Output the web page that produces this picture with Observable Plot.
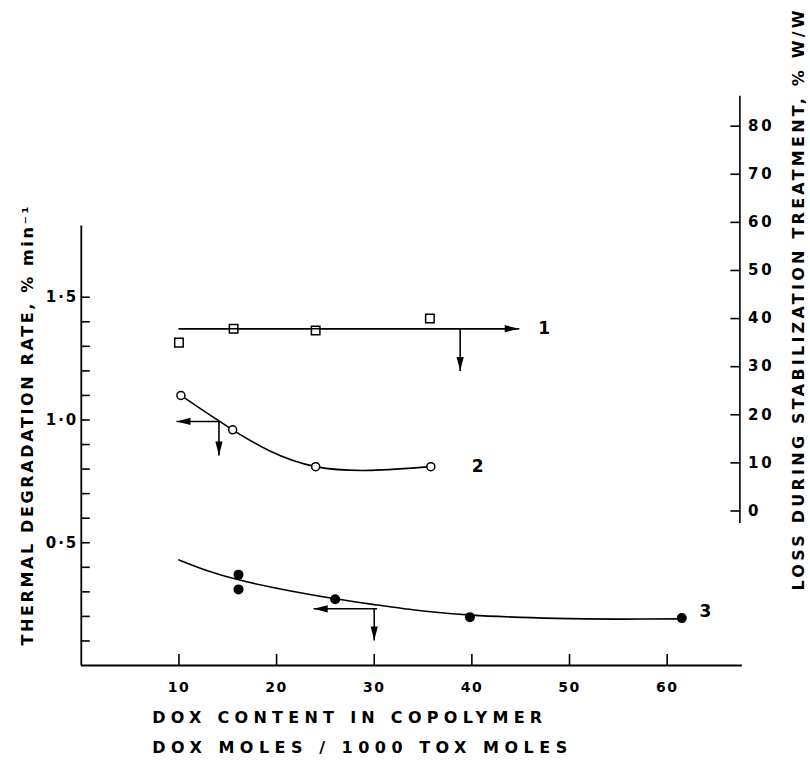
<!DOCTYPE html>
<html>
<head>
<meta charset="utf-8">
<script src="https://cdn.jsdelivr.net/npm/d3@7"></script>
<script src="https://cdn.jsdelivr.net/npm/@observablehq/plot@0.6"></script>
<style>
  html, body { margin: 0; padding: 0; background: #fff; }
  #chart svg { display: block; }
  #chart g[aria-label="x-axis tick label"] text { letter-spacing: 1.5px; }
  #chart g.rightlab text { letter-spacing: 3px; }
  #chart g.leftlab text { letter-spacing: 2px; }
</style>
</head>
<body>
<div id="chart"></div>
<script>
// ---------- data ----------
// Series 1: loss during stabilization treatment (right axis, % w/w)
const s1X = [10, 15.6, 24, 35.7];
const s1Loss = [35.0, 37.9, 37.5, 40.0];
// Series 2: thermal degradation rate (left axis, % min^-1)
const s2X = [10.2, 15.5, 24, 35.8];
const s2Rate = [1.10, 0.96, 0.81, 0.81];
// Series 3: thermal degradation rate (left axis)
const s3X = [16.1, 16.1, 26.0, 39.8, 61.5];
const s3Rate = [0.37, 0.31, 0.27, 0.197, 0.193];
// Hand-drawn curve of series 3
const c3X = [10, 13, 16, 20, 26, 30, 35, 40, 45, 50, 55, 61.5];
const c3Rate = [0.43, 0.385, 0.35, 0.315, 0.272, 0.248, 0.222, 0.205, 0.196, 0.191, 0.189, 0.19];
// Series 1 fitted level (right axis units)
const s1LevelX = [10, 44.8];
const s1Level = 37.9;

// Axis ticks
const xTicks = [10, 20, 30, 40, 50, 60];
const leftTicks = [0.1,0.2,0.3,0.4,0.5,0.6,0.7,0.8,0.9,1.0,1.1,1.2,1.3,1.4,1.5];
const leftLabelled = [0.5, 1.0, 1.5];
const rightTicks = [0, 10, 20, 30, 40, 50, 60, 70, 80];

// Arrows (axis pointers): from, to, axis of y ("L" rate or "R" loss), head rotation
const arrowFrom = [[10, 37.9], [38.8, 37.9], [14.1, 0.994], [14.1, 0.994], [30.3, 0.231], [30.0, 0.231]];
const arrowTo   = [[44.8, 37.9], [38.8, 29.1], [9.75, 0.994], [14.1, 0.855], [23.8, 0.231], [30.0, 0.102]];
const arrowAxis = ["R", "R", "L", "L", "L", "L"];
const arrowDir  = [90, 180, -90, 180, -90, 180];

// Curve labels
const labelText = ["1", "2", "3"];
const labelX = [46.8, 40.0, 63.3];
const labelY = [37.9, 0.81, 0.221];
const labelAxis = ["R", "L", "L"];

const leftTitle = "THERMAL DEGRADATION RATE, % min\u207B\u00B9";
const rightTitle = "LOSS DURING STABILIZATION TREATMENT, % W/W";
const xTitle1 = "DOX CONTENT IN COPOLYMER";
const xTitle2 = "DOX MOLES / 1000 TOX MOLES";

// ---------- right-axis (loss) to left-axis (rate) mapping ----------
const toLeft = r => (154.5 + 4.81 * r) / 245.5;
const toRight = l => (245.5 * l - 154.5) / 4.81;

const s1 = s1X.map((x, i) => ({x, y: toLeft(s1Loss[i])}));
const s2 = s2X.map((x, i) => ({x, y: s2Rate[i]}));
const s3 = s3X.map((x, i) => ({x, y: s3Rate[i]}));
const c3 = c3X.map((x, i) => ({x, y: c3Rate[i]}));
const conv = (v, a) => a === "R" ? toLeft(v) : v;
const arrows = arrowFrom.map((f, i) => ({
  x1: f[0], y1: conv(f[1], arrowAxis[i]),
  x2: arrowTo[i][0], y2: conv(arrowTo[i][1], arrowAxis[i]),
  rot: arrowDir[i]
}));
const labels = labelText.map((t, i) => ({t, x: labelX[i], y: conv(labelY[i], labelAxis[i])}));

// narrow filled arrow head, tip at origin pointing up
const arrowHead = {
  draw(ctx, size) {
    const L = 14, w = 3.6;
    ctx.moveTo(0, 0);
    ctx.lineTo(w, L);
    ctx.lineTo(-w, L);
    ctx.closePath();
  }
};

const FONT = "DejaVu Sans, sans-serif";
const isLab = d => leftLabelled.some(v => Math.abs(v - d) < 1e-9);

const chart = Plot.plot({
  width: 810,
  height: 761,
  marginLeft: 80.8,
  marginRight: 70.6,
  marginTop: 95.4,
  marginBottom: 96,
  x: {domain: [0, 67.45]},
  y: {domain: [0, 2.32]},
  style: {fontFamily: FONT, background: "#fff", color: "#000", overflow: "visible"},
  marks: [
    // axis lines
    Plot.ruleX([0], {y1: 0, y2: 1.79, stroke: "#000", strokeWidth: 1.8}),
    Plot.ruleY([0], {x1: 0, x2: 67.7, stroke: "#000", strokeWidth: 1.8}),
    Plot.ruleX([67.45], {y1: toLeft(-2.6), y2: toLeft(86.2), stroke: "#000", strokeWidth: 1.6}),
    // x axis: inward ticks, then labels
    Plot.axisX(xTicks, {anchor: "bottom", tickSize: -11, strokeWidth: 1.6, tickFormat: () => "", label: null}),
    Plot.axisX(xTicks, {anchor: "bottom", tickSize: 0, tickPadding: 17, fontSize: 14, fontWeight: "bold",
      tickFormat: d => String(d), label: null}),
    // left axis
    Plot.axisY(leftTicks, {anchor: "left", tickSize: -9, strokeWidth: 1.6, tickFormat: () => "", label: null}),
    Plot.axisY(leftTicks.filter(isLab), {anchor: "left", tickSize: 0, tickPadding: 3, fontSize: 15, fontWeight: "bold",
      tickFormat: d => d.toFixed(1).replace(".", "\u00B7"), label: null, className: "leftlab"}),
    // right axis (loss, % w/w)
    Plot.axisY(rightTicks.map(toLeft), {anchor: "right", tickSize: -10, strokeWidth: 1.6, tickFormat: () => "", label: null}),
    Plot.axisY(rightTicks.map(toLeft), {anchor: "right", tickSize: 0, tickPadding: 8, fontSize: 15, fontWeight: "bold",
      tickFormat: l => String(Math.round(toRight(l))), label: null, className: "rightlab"}),
    // titles
    Plot.text([leftTitle], {text: d => d, frameAnchor: "left", rotate: -90, textAnchor: "start",
      dx: 27 - 80.8, dy: 645 - 380.2, fontSize: 16, fontWeight: "bold"}),
    Plot.text([rightTitle], {text: d => d, frameAnchor: "right", rotate: -90, textAnchor: "start",
      dx: 798 - 739.4, dy: 590 - 380.2, fontSize: 16, fontWeight: "bold"}),
    Plot.text([xTitle1], {text: d => d, frameAnchor: "bottom-left", textAnchor: "start", dx: 151.7 - 80.8, dy: 722.5 - 665,
      fontSize: 16, fontWeight: "bold"}),
    Plot.text([xTitle2], {text: d => d, frameAnchor: "bottom-left", textAnchor: "start", dx: 151.7 - 80.8, dy: 752.5 - 665,
      fontSize: 16, fontWeight: "bold"}),
    // series 1
    Plot.lineY(s1LevelX.map(x => ({x, y: toLeft(s1Level)})), {x: "x", y: "y", stroke: "#000", strokeWidth: 1.6}),
    Plot.dot(s1, {x: "x", y: "y", symbol: "square", r: 4.8, fill: "#fff", stroke: "#000", strokeWidth: 1.5}),
    // series 2
    Plot.line(s2, {x: "x", y: "y", curve: "natural", stroke: "#000", strokeWidth: 1.6}),
    Plot.dot(s2, {x: "x", y: "y", r: 4, fill: "#fff", stroke: "#000", strokeWidth: 1.5}),
    // series 3
    Plot.line(c3, {x: "x", y: "y", curve: "catmull-rom", stroke: "#000", strokeWidth: 1.6}),
    Plot.dot(s3, {x: "x", y: "y", r: 5, fill: "#000", stroke: "none"}),
    // arrows
    Plot.link(arrows, {x1: "x1", y1: "y1", x2: "x2", y2: "y2", stroke: "#000", strokeWidth: 1.6}),
    Plot.dot(arrows, {x: "x2", y: "y2", symbol: arrowHead, rotate: "rot", fill: "#000", stroke: "none", r: 5}),
    // curve labels
    Plot.text(labels, {x: "x", y: "y", text: "t", fontSize: 17, fontWeight: "bold", textAnchor: "start"})
  ]
});

// stretch titles to the lengths seen in the original
const lengths = {};
lengths[leftTitle] = 439;
lengths[rightTitle] = 580;
lengths[xTitle1] = 390;
lengths[xTitle2] = 415;
d3.select(chart).selectAll("text").each(function () {
  const t = this.textContent;
  if (lengths[t]) {
    this.setAttribute("textLength", lengths[t]);
    this.setAttribute("lengthAdjust", "spacing");
  }
});
document.getElementById("chart").appendChild(chart);
</script>
</body>
</html>
